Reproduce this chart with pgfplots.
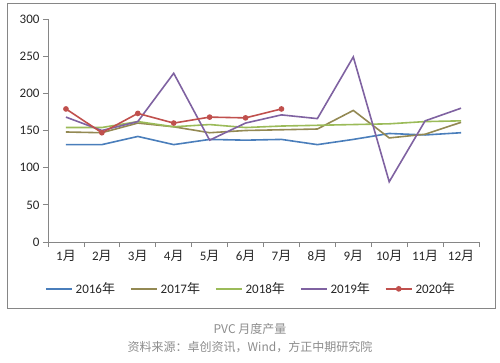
\documentclass[border=0pt]{standalone}
\usepackage{pgfplots}
\pgfplotsset{compat=1.18}
\usepackage{fontspec}
\setmainfont{Carlito}
\newfontfamily\cjk{Noto Sans CJK SC}
\newcommand\yue{{\cjk 月}}
\newcommand\nian{{\cjk 年}}
\definecolor{c16}{HTML}{4A7EBB}
\definecolor{c17}{HTML}{938953}
\definecolor{c18}{HTML}{9BBB59}
\definecolor{c19}{HTML}{7F62A1}
\definecolor{c20}{HTML}{C0504D}
\definecolor{axgray}{HTML}{868686}
\begin{document}
\begin{tikzpicture}[x=1pt,y=1pt]
\path[use as bounding box] (0,0) rectangle (500,362);
\draw[axgray, line width=1pt] (7,54) rectangle (495,358);
\begin{axis}[
  at={(48pt,120pt)}, anchor=south west,
  scale only axis, width=431pt, height=223pt,
  xmin=0.5, xmax=12.5, ymin=0, ymax=300,
  axis x line=bottom, axis y line=left,
  axis line style={-, axgray, line width=0.8pt},
  xtick={1,...,12},
  xticklabels={1\yue,2\yue,3\yue,4\yue,5\yue,6\yue,7\yue,8\yue,9\yue,10\yue,11\yue,12\yue},
  major x tick style={draw=none},
  minor xtick={0.5,1.5,...,12.5},
  ytick={0,50,...,300},
  tick align=outside, major tick length=5pt, minor tick length=5pt,
  tick style={axgray, line width=0.8pt},
  every tick label/.style={font=\fontsize{13}{15}\selectfont, text=black!85},
  /pgf/number format/assume math mode=true,
  legend columns=5,
  legend style={at={(0.471,-0.21)}, anchor=center, draw=none, fill=none,
    font=\fontsize{13}{15}\selectfont, text=black!85, column sep=1pt,
    /tikz/every even column/.append style={column sep=13pt}},
  legend image code/.code={\draw[#1, mark repeat=2, mark phase=2] plot coordinates {(0pt,0pt) (13pt,0pt) (26pt,0pt)};},
  every axis plot/.append style={line width=1.6pt},
]
\addplot[c16, no marks] coordinates {(1,131)(2,131)(3,142)(4,131)(5,138)(6,137)(7,138)(8,131)(9,138)(10,146)(11,144)(12,147)};
\addlegendentry{2016\nian}
\addplot[c17, no marks] coordinates {(1,148)(2,147)(3,160)(4,155)(5,147)(6,150)(7,151)(8,152)(9,177)(10,140)(11,145)(12,161)};
\addlegendentry{2017\nian}
\addplot[c18, no marks] coordinates {(1,154)(2,154)(3,162)(4,155)(5,158)(6,154)(7,156)(8,157)(9,158)(10,159)(11,162)(12,163)};
\addlegendentry{2018\nian}
\addplot[c19, no marks] coordinates {(1,168)(2,150)(3,162)(4,227)(5,137)(6,160)(7,171)(8,166)(9,249)(10,81)(11,163)(12,180)};
\addlegendentry{2019\nian}
\addplot[c20, mark=*, mark size=2pt] coordinates {(1,179)(2,147)(3,173)(4,160)(5,168)(6,167)(7,179)};
\addlegendentry{2020\nian}
\end{axis}
\node[text=black!45, font=\cjk\fontsize{12}{14}\selectfont] at (250,33) {PVC 月度产量};
\node[text=black!45, font=\cjk\fontsize{12}{14}\selectfont] at (250,15) {资料来源：卓创资讯，Wind，方正中期研究院};
\end{tikzpicture}
\end{document}
